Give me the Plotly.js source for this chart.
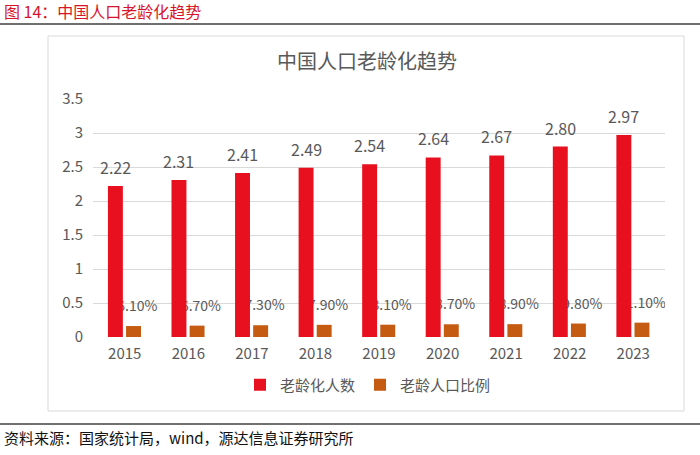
<!DOCTYPE html>
<html>
<head>
<meta charset="utf-8">
<script src="https://cdn.plot.ly/plotly-3.0.1.min.js"></script>
<style>html,body{margin:0;padding:0;background:#fff;}#chart{width:700px;height:455px;}</style>
</head>
<body>
<div id="chart"></div>
<script>
// ---- data ----
const years = ['2015','2016','2017','2018','2019','2020','2021','2022','2023'];
const elderlyPop = [2.22, 2.31, 2.41, 2.49, 2.54, 2.64, 2.67, 2.80, 2.97];   // 老龄化人数 (亿)
const elderlyPct = [16.1, 16.7, 17.3, 17.9, 18.1, 18.7, 18.9, 19.8, 21.1];   // 老龄人口比例 (%)
const seriesNames = ['老龄化人数', '老龄人口比例'];
const chartTitle = '中国人口老龄化趋势';
const headerText = '图 14：中国人口老龄化趋势';
const sourceText = '资料来源：国家统计局，wind，源达信息证券研究所';

// ---- layout helpers ----
const W = 700, H = 455;
const M = {l: 93, r: 35, t: 99, b: 118};
const PW = W - M.l - M.r, PH = H - M.t - M.b;
const px2x = p => (p - M.l) / PW;
const py2y = p => (H - M.b - p) / PH;
const Y_MAX = 3.5;
const pxToY = p => p * Y_MAX / PH;   // pixel distance -> y data units

const FONT = '"Noto Sans CJK SC", "Noto Sans", sans-serif';
const GRAY = '#595959';
const RED = '#e8101e';
const ORANGE = '#c55a11';

const barW = 0.235;
const redOff = -0.265, orgOff = 0.02;
const idx = years.map((_, i) => i);
const pctFrac = elderlyPct.map(v => v / 100);

const traces = [
  {
    type: 'bar', name: seriesNames[1], x: years, y: pctFrac,
    offset: orgOff, width: barW,
    marker: {color: ORANGE}, hoverinfo: 'skip'
  },
  {
    type: 'bar', name: seriesNames[0], x: years, y: elderlyPop,
    offset: redOff, width: barW,
    marker: {color: RED}, hoverinfo: 'skip'
  }
];

const annotations = [];
idx.forEach(i => {
  annotations.push({
    xref: 'x', yref: 'y', x: i + redOff + barW / 2, y: elderlyPop[i],
    text: elderlyPop[i].toFixed(2), showarrow: false, yshift: 19,
    yanchor: 'middle', xanchor: 'center',
    font: {family: FONT, size: 16, color: GRAY}
  });
});
annotations.push({
  xref: 'paper', yref: 'paper', x: px2x(2), y: py2y(11), xanchor: 'left', yanchor: 'middle',
  text: headerText, showarrow: false, font: {family: FONT, size: 16, color: '#d7142a'}
});
annotations.push({
  xref: 'paper', yref: 'paper', x: px2x(2), y: py2y(437), xanchor: 'left', yanchor: 'middle',
  text: sourceText, showarrow: false, font: {family: FONT, size: 15, color: '#111'}
});

const shapes = [
  // chart frame
  {type: 'rect', xref: 'paper', yref: 'paper', x0: px2x(48), x1: px2x(684), y0: py2y(411), y1: py2y(36),
   line: {color: '#d9d9d9', width: 1}, fillcolor: 'rgba(0,0,0,0)', layer: 'below'},
  // header rule
  {type: 'line', xref: 'paper', yref: 'paper', x0: px2x(0), x1: px2x(700), y0: py2y(24), y1: py2y(24),
   line: {color: '#6f6f6f', width: 2}},
  // footer rule
  {type: 'line', xref: 'paper', yref: 'paper', x0: px2x(0), x1: px2x(700), y0: py2y(424), y1: py2y(424),
   line: {color: '#404040', width: 1.5}}
];
// percentage labels, drawn beneath the bars so red bars overlap them
idx.forEach(i => {
  const cx = i + orgOff + barW / 2;
  shapes.push({
    type: 'rect', xref: 'x', yref: 'y', layer: 'between',
    x0: cx - 0.45, x1: cx + 0.45,
    y0: pctFrac[i] + pxToY(10), y1: pctFrac[i] + pxToY(28),
    line: {width: 0}, fillcolor: 'rgba(0,0,0,0)',
    label: {text: elderlyPct[i].toFixed(2) + '%', textposition: 'middle center',
            font: {family: FONT, size: 14, color: GRAY}}
  });
});

const layout = {
  width: W, height: H,
  margin: M,
  paper_bgcolor: '#fff', plot_bgcolor: 'rgba(0,0,0,0)',
  barmode: 'overlay',
  showlegend: true,
  title: {text: chartTitle, x: 367 / W, xref: 'container', xanchor: 'center',
          y: 1 - 62 / H, yref: 'container', yanchor: 'middle',
          font: {family: FONT, size: 20, color: GRAY}},
  xaxis: {type: 'category', range: [-0.5, years.length - 0.5], showgrid: false, zeroline: false,
          showline: false, ticks: '', ticklabelstandoff: 6,
          tickfont: {family: FONT, size: 15, color: GRAY}, fixedrange: true},
  yaxis: {range: [0, Y_MAX], dtick: 0.5, tick0: 0, showgrid: true, gridcolor: '#d9d9d9', gridwidth: 1,
          zeroline: false, showline: false, ticks: '', ticklabelstandoff: 9,
          tickfont: {family: FONT, size: 15, color: GRAY}, fixedrange: true},
  legend: {orientation: 'h', traceorder: 'reversed', xref: 'container', yref: 'container',
           x: 368 / W, xanchor: 'center', y: 1 - 385 / H, yanchor: 'middle',
           font: {family: FONT, size: 15, color: GRAY}, bgcolor: 'rgba(0,0,0,0)',
           itemwidth: 30},
  annotations: annotations,
  shapes: shapes
};

Plotly.newPlot('chart', traces, layout, {displayModeBar: false, staticPlot: true});
</script>
</body>
</html>
